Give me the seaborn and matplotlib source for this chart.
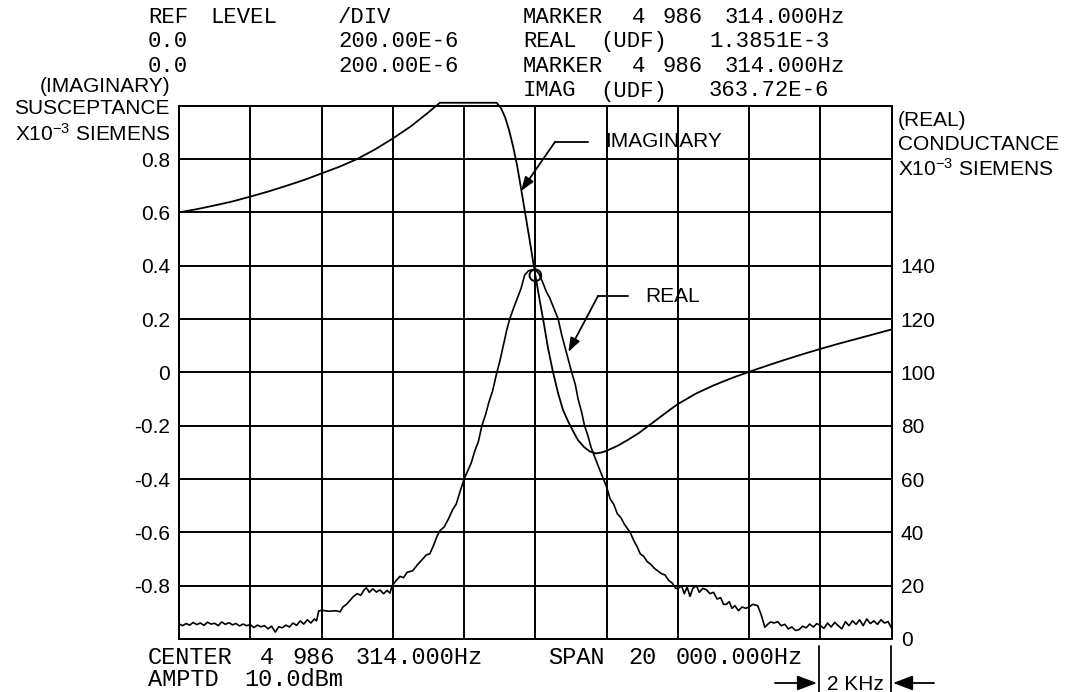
import matplotlib
matplotlib.use("Agg")
import matplotlib.pyplot as plt
import matplotlib.patches as mpatches
import seaborn as sns
from matplotlib.lines import Line2D

# ---------------- data ----------------
# frequency offset from centre 4 986 314 Hz, in kHz (span 20 kHz, 2 kHz/div)
freq_imag_khz = [-10.0, -9.5, -9.0, -8.5, -8.0, -7.5, -7.0, -6.5, -6.0, -5.5,
                 -5.0, -4.5, -4.0, -3.5, -3.0, -2.68, -1.085,
                 -0.965, -0.852, -0.739, -0.627, -0.515, -0.403, -0.291, -0.178, -0.080, 0.0,
                 0.130, 0.243, 0.355, 0.495, 0.636, 0.776, 0.916, 1.057, 1.197, 1.365,
                 1.533, 1.702, 1.870, 2.0, 2.3, 2.6, 2.9, 3.2, 3.5, 3.8,
                 4.0, 4.5, 5.0, 5.5, 6.0, 6.5, 7.0, 7.5, 8.0, 8.5,
                 9.0, 9.5, 10.0]
imag_susceptance = [0.600, 0.612, 0.626, 0.641, 0.659, 0.678, 0.699, 0.721, 0.746, 0.771,
                    0.800, 0.836, 0.877, 0.922, 0.975, 1.011, 1.011,
                    0.991, 0.958, 0.909, 0.849, 0.778, 0.691, 0.601, 0.511, 0.429, 0.364,
                    0.264, 0.180, 0.091, 0.001, -0.077, -0.141, -0.183, -0.220, -0.254, -0.280,
                    -0.297, -0.304, -0.300, -0.294, -0.276, -0.253, -0.228, -0.198, -0.168, -0.138,
                    -0.119, -0.080, -0.049, -0.022, 0.002, 0.025, 0.047, 0.068, 0.088, 0.107,
                    0.125, 0.143, 0.161]

freq_real_khz = [-10.0, -9.9, -9.8, -9.7, -9.6, -9.5, -9.4, -9.3, -9.2, -9.1,
                 -9.0, -8.9, -8.8, -8.7, -8.6, -8.5, -8.4, -8.3, -8.2, -8.1,
                 -8.0, -7.9, -7.8, -7.7, -7.6, -7.5, -7.4, -7.3, -7.2, -7.1,
                 -7.0, -6.9, -6.8, -6.7, -6.6, -6.5, -6.4, -6.3, -6.2, -6.14,
                 -6.08, -6.0, -5.8, -5.6, -5.48, -5.4, -5.3, -5.2, -5.1, -5.0,
                 -4.9, -4.8, -4.74, -4.66, -4.56, -4.46, -4.36, -4.26, -4.16, -4.08,
                 -4.02, -3.9, -3.8, -3.7, -3.6, -3.44, -3.3, -3.16, -3.06, -2.96,
                 -2.86, -2.76, -2.68, -2.56, -2.44, -2.32, -2.22, -2.12, -2.0, -1.9,
                 -1.8, -1.7, -1.6, -1.5, -1.4, -1.3, -1.2, -1.08, -1.0, -0.9,
                 -0.8, -0.72, -0.6, -0.5, -0.4, -0.3, -0.2, -0.1, 0.0, 0.1,
                 0.2, 0.3, 0.4, 0.52, 0.64, 0.74, 0.84, 0.94, 1.02, 1.12,
                 1.2, 1.3, 1.38, 1.48, 1.56, 1.66, 1.76, 1.88, 2.0, 2.1,
                 2.2, 2.3, 2.4, 2.5, 2.66, 2.76, 2.86, 2.94, 3.04, 3.14,
                 3.24, 3.34, 3.44, 3.54, 3.64, 3.74, 3.84, 3.94, 4.0, 4.1,
                 4.18, 4.26, 4.34, 4.42, 4.52, 4.6, 4.7, 4.8, 4.9, 5.0,
                 5.1, 5.2, 5.28, 5.36, 5.44, 5.52, 5.6, 5.7, 5.8, 5.9,
                 6.0, 6.1, 6.24, 6.34, 6.44, 6.52, 6.6, 6.7, 6.8, 6.9,
                 7.0, 7.1, 7.2, 7.3, 7.4, 7.5, 7.6, 7.7, 7.8, 7.9,
                 8.0, 8.1, 8.2, 8.3, 8.4, 8.5, 8.6, 8.7, 8.8, 8.9,
                 9.0, 9.1, 9.2, 9.3, 9.4, 9.5, 9.6, 9.7, 9.8, 9.9, 10.0]
real_conductance = [5.7, 5.0, 5.8, 5.2, 6.2, 5.4, 6.0, 5.1, 6.3, 5.6,
                    5.9, 5.0, 6.4, 5.5, 6.1, 5.3, 5.8, 4.9, 5.6, 5.0,
                    5.4, 4.3, 5.2, 4.6, 5.0, 3.8, 4.8, 2.6, 4.6, 4.2,
                    5.2, 4.5, 6.0, 5.1, 6.8, 5.6, 7.2, 6.0, 7.5, 6.8,
                    10.5, 10.8, 10.4, 10.6, 10.2, 12.0, 13.0, 14.5, 16.0, 17.0,
                    16.4, 18.5, 19.2, 17.5, 18.8, 17.6, 18.4, 17.0, 18.2, 17.2,
                    20.0, 22.0, 23.5, 23.0, 25.0, 25.6, 28.0, 30.0, 31.5, 32.0,
                    35.0, 38.5, 40.6, 42.0, 45.0, 48.5, 50.6, 55.0, 60.0, 63.0,
                    66.0, 70.5, 74.0, 80.0, 84.0, 89.0, 93.0, 100.0, 104.0, 110.0,
                    116.0, 120.0, 124.5, 128.0, 131.5, 136.5, 138.0, 138.5, 138.5, 137.0,
                    134.0, 130.5, 128.0, 124.0, 120.0, 114.0, 109.0, 104.0, 100.0, 95.5,
                    90.0, 85.0, 80.0, 76.0, 72.0, 68.5, 65.0, 61.0, 57.0, 52.5,
                    50.5, 47.0, 45.5, 43.0, 40.0, 37.0, 34.5, 32.0, 31.0, 29.0,
                    28.0, 26.5, 25.5, 24.5, 24.0, 22.0, 21.0, 19.0, 18.8, 20.0,
                    17.0, 19.5, 16.0, 19.0, 20.0, 17.5, 19.0, 18.5, 17.0, 17.5,
                    15.0, 15.5, 13.0, 13.0, 14.0, 11.5, 12.5, 10.6, 12.0, 11.5,
                    12.0, 13.0, 12.5, 9.0, 4.4, 5.5, 6.4, 6.0, 6.5, 5.0,
                    5.5, 3.8, 4.5, 3.2, 3.5, 4.8, 4.2, 5.6, 4.5, 5.8,
                    5.0, 4.0, 6.0, 4.5, 6.2, 5.0, 3.8, 6.5, 5.0, 6.8,
                    5.5, 7.2, 5.0, 7.5, 5.8, 6.8, 5.5, 7.2, 6.0, 6.5, 4.0]

marker_khz = [0.0]
marker_imag = [0.364]

x_grid_khz = [-8, -6, -4, -2, 0, 2, 4, 6, 8]
left_ticks = [-0.8, -0.6, -0.4, -0.2, 0.0, 0.2, 0.4, 0.6, 0.8]
left_tick_labels = ["-0.8", "-0.6", "-0.4", "-0.2", "0", "0.2", "0.4", "0.6", "0.8"]
right_ticks = [0, 20, 40, 60, 80, 100, 120, 140]
right_tick_labels = ["0", "20", "40", "60", "80", "100", "120", "140"]

header_rows = [
    ["REF LEVEL", "/DIV", "MARKER 4 986 314.000Hz"],
    ["0.0", "200.00E-6", "REAL (UDF)  1.3851E-3"],
    ["0.0", "200.00E-6", "MARKER 4 986 314.000Hz"],
    ["", "", "IMAG (UDF)  363.72E-6"],
]
footer_rows = ["CENTER 4 986 314.000Hz   SPAN 20 000.000Hz", "AMPTD 10.0dBm"]

# ---------------- style ----------------
sns.set_theme(style="white")
plt.rcParams['font.family'] = ['Liberation Sans', 'DejaVu Sans']
plt.rcParams['mathtext.default'] = 'regular'
plt.rcParams['axes.unicode_minus'] = False

W, H = 1069, 692
fig = plt.figure(figsize=(W / 100, H / 100), dpi=100)
fig.patch.set_facecolor('white')

L, R, T, B = 179, 891.7, 105.7, 639
ax = fig.add_axes([L / W, 1 - B / H, (R - L) / W, (B - T) / H])
ax.set_facecolor('white')
ax.set_xlim(-10, 10)
ax.set_ylim(-1, 1)
ax.set_xticks(x_grid_khz)
ax.set_yticks(left_ticks)
ax.set_yticklabels(left_tick_labels)
ax.grid(True, color='black', lw=1.4)
ax.tick_params(axis='both', length=0, labelsize=15, pad=6.5, labelbottom=False,
               labelcolor='black')
for sp in ax.spines.values():
    sp.set_color('black'); sp.set_linewidth(1.4); sp.set_visible(True)
ax.set_xlabel(''); ax.set_ylabel('')

# imaginary curve
sns.lineplot(x=freq_imag_khz, y=imag_susceptance, ax=ax, color='black', lw=1.3,
             sort=False, estimator=None, legend=False)
ax.lines[-1].set_clip_on(False)

# marker
sns.scatterplot(x=marker_khz, y=marker_imag, ax=ax, marker='o', s=70,
                legend=False, zorder=6)
coll = ax.collections[-1]
coll.set_facecolor('none'); coll.set_edgecolor('black'); coll.set_linewidth(1.4)

# right axis (conductance)
ax2 = ax.twinx()
ax2.set_ylim(0, 200)
sns.lineplot(x=freq_real_khz, y=real_conductance, ax=ax2, color='black', lw=1.2,
             sort=False, estimator=None, legend=False)
ax2.set_yticks(right_ticks)
ax2.set_yticklabels(right_tick_labels)
ax2.grid(False)
ax2.tick_params(axis='y', length=0, labelsize=15, pad=6.5, labelcolor='black')
ax2.set_xlabel(''); ax2.set_ylabel('')
for sp in ax2.spines.values():
    sp.set_color('black'); sp.set_linewidth(1.4)

# curve annotations (leader lines with arrows)
arrow_kw = dict(arrowstyle='-|>,head_length=0.7,head_width=0.25', color='black', lw=1.3,
                shrinkA=0, shrinkB=0)
ax.annotate('', xy=(-0.403, 0.680), xytext=(0.551, 0.864), arrowprops=arrow_kw)
ax.add_line(Line2D([0.551, 1.478], [0.864, 0.864], color='black', lw=1.3))
ax.text(1.955, 0.864, 'IMAGINARY', fontsize=15, va='center', ha='left', color='black')

ax.annotate('', xy=(0.925, 0.0763), xytext=(1.758, 0.2863), arrowprops=arrow_kw)
ax.add_line(Line2D([1.758, 2.600], [0.2863, 0.2863], color='black', lw=1.3))
ax.text(3.077, 0.2863, 'REAL', fontsize=15, va='center', ha='left', color='black')


def fx(x):
    return x / W


def fy(y):
    return 1 - y / H


# axis titles
for txt, y in [('(IMAGINARY)', 86), ('SUSCEPTANCE', 108.5), ('X10$^{-3}$ SIEMENS', 134)]:
    fig.text(fx(170), fy(y), txt, fontsize=15, ha='right', va='center', color='black')
for txt, y in [('(REAL)', 120), ('CONDUCTANCE', 145), ('X10$^{-3}$ SIEMENS', 169)]:
    fig.text(fx(898), fy(y), txt, fontsize=15, ha='left', va='center', color='black')


# plotter-style monospaced annotation text, placed word by word on a character grid
def plotter_text(s, x0, y, pitch, size):
    i = 0
    n = len(s)
    while i < n:
        if s[i] == ' ':
            i += 1
            continue
        j = i
        while j < n and s[j] != ' ':
            j += 1
        fig.text(fx(x0 + i * pitch), fy(y), s[i:j], family='Liberation Mono',
                 fontsize=size, ha='left', va='center', color='black')
        i = j


col_x = [148, 338, 523]
row_y = [17.5, 41.5, 66.5, 91]
for r, row in enumerate(header_rows):
    for c, s in enumerate(row):
        if s:
            plotter_text(s, col_x[c], row_y[r], 15.5, 16)

plotter_text(footer_rows[0], 148, 657, 16, 17)
plotter_text(footer_rows[1], 148, 680, 16, 17)

# 2 kHz scale indicator
for xb in (819, 891):
    fig.add_artist(Line2D([fx(xb), fx(xb)], [fy(646), fy(692)], transform=fig.transFigure,
                          color='black', lw=1.3))
fig.text(fx(855), fy(684), '2 KHz', fontsize=15, ha='center', va='center', color='black')
ak = dict(arrowstyle='-|>,head_length=0.8,head_width=0.3', color='black', lw=1.3,
          shrinkA=0, shrinkB=0, mutation_scale=15)
fig.add_artist(mpatches.FancyArrowPatch((fx(775), fy(683)), (fx(817), fy(683)),
                                        transform=fig.transFigure, **ak))
fig.add_artist(mpatches.FancyArrowPatch((fx(934), fy(683)), (fx(893), fy(683)),
                                        transform=fig.transFigure, **ak))

fig.savefig('out.png', dpi=100, facecolor='white')
